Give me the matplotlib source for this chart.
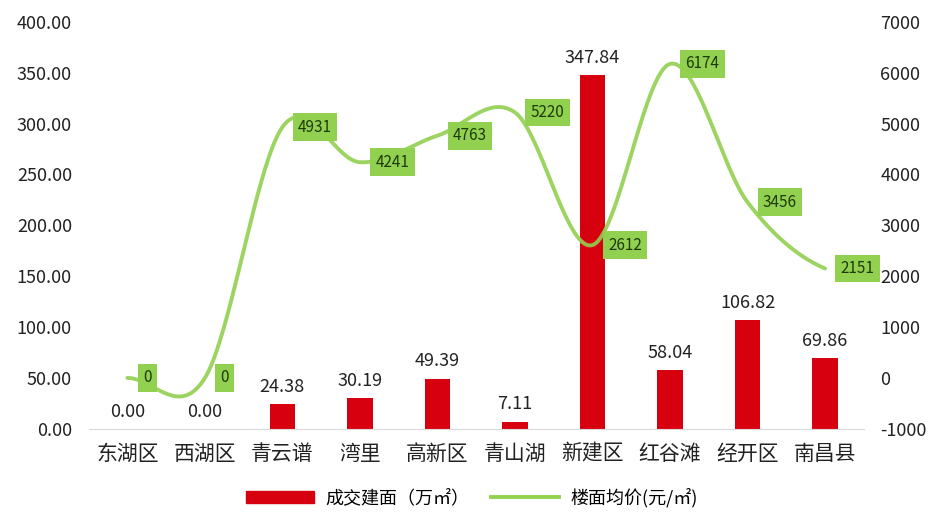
import numpy as np
import matplotlib
matplotlib.use("Agg")
import matplotlib.pyplot as plt
from matplotlib.lines import Line2D
from matplotlib.patches import Patch

plt.rcParams['font.family'] = ['Noto Sans CJK SC', 'DejaVu Sans']

districts = ['东湖区', '西湖区', '青云谱', '湾里', '高新区', '青山湖', '新建区', '红谷滩', '经开区', '南昌县']
area = [0.00, 0.00, 24.38, 30.19, 49.39, 7.11, 347.84, 58.04, 106.82, 69.86]
price = [0, 0, 4931, 4241, 4763, 5220, 2612, 6174, 3456, 2151]

bar_color = '#D7000F'
line_color = '#92D050'


def smooth(xs, ys, n=40):
    # Catmull-Rom spline through the points, like Excel's smoothed line
    xs = np.asarray(xs, float)
    ys = np.asarray(ys, float)
    px = np.concatenate([[2 * xs[0] - xs[1]], xs, [2 * xs[-1] - xs[-2]]])
    py = np.concatenate([[ys[0]], ys, [ys[-1]]])
    outx, outy = [], []
    for i in range(1, len(px) - 2):
        t = np.linspace(0, 1, n, endpoint=False)
        for p, out in ((px, outx), (py, outy)):
            p0, p1, p2, p3 = p[i - 1], p[i], p[i + 1], p[i + 2]
            out.extend(0.5 * ((2 * p1) + (-p0 + p2) * t
                              + (2 * p0 - 5 * p1 + 4 * p2 - p3) * t ** 2
                              + (-p0 + 3 * p1 - 3 * p2 + p3) * t ** 3))
    outx.append(xs[-1])
    outy.append(ys[-1])
    return np.array(outx), np.array(outy)


fig = plt.figure(figsize=(9.43, 5.21), dpi=100)
ax = fig.add_axes([0.094, 0.177, 0.822, 0.781])
ax2 = ax.twinx()

x = np.arange(len(districts))
ax.bar(x, area, 0.33, color=bar_color, zorder=2)
for xi, v in zip(x, area):
    ax.text(xi, v + 8, '%.2f' % v, ha='center', va='bottom', fontsize=13, color='#222222')

sx, sy = smooth(x, price)
ax2.plot(sx, sy, color=line_color, lw=2.8, alpha=0.9, solid_capstyle='round', zorder=3)
for xi, v in zip(x, price):
    ax2.text(xi + 0.2, v, str(v), ha='left', va='center', fontsize=11, color='#1E3A0A',
             bbox=dict(boxstyle='square,pad=0.35', fc=line_color, ec='none'), zorder=4)

ax.set_zorder(ax2.get_zorder() - 1)
ax.patch.set_visible(False)

ax.set_xlim(-0.5, len(districts) - 0.5)
ax.set_ylim(0, 400)
ax.set_yticks(np.arange(0, 401, 50))
ax.set_yticklabels(['%.2f' % v for v in np.arange(0, 401, 50)], fontsize=13)
ax2.set_ylim(-1000, 7000)
ax2.set_yticks(np.arange(-1000, 7001, 1000))
ax2.set_yticklabels([str(v) for v in range(-1000, 7001, 1000)], fontsize=13)
ax.set_xticks(x)
ax.set_xticklabels(districts, fontsize=15)

for a in (ax, ax2):
    for s in ('top', 'left', 'right', 'bottom'):
        a.spines[s].set_visible(False)
    a.tick_params(length=0, colors='#222222')
ax.spines['bottom'].set_visible(True)
ax.spines['bottom'].set_color('#D9D9D9')
ax.tick_params(axis='x', pad=10)
ax.tick_params(axis='y', pad=12)
ax2.tick_params(axis='y', pad=12)

handles = [Patch(color=bar_color), Line2D([], [], color=line_color, lw=2.8)]
fig.legend(handles, ['成交建面（万㎡）', '楼面均价(元/㎡)'], loc='center', bbox_to_anchor=(0.5, 0.045),
           ncol=2, frameon=False, fontsize=13, handlelength=3.8, handletextpad=0.6,
           columnspacing=1.2)

fig.savefig('out.png', dpi=100)
